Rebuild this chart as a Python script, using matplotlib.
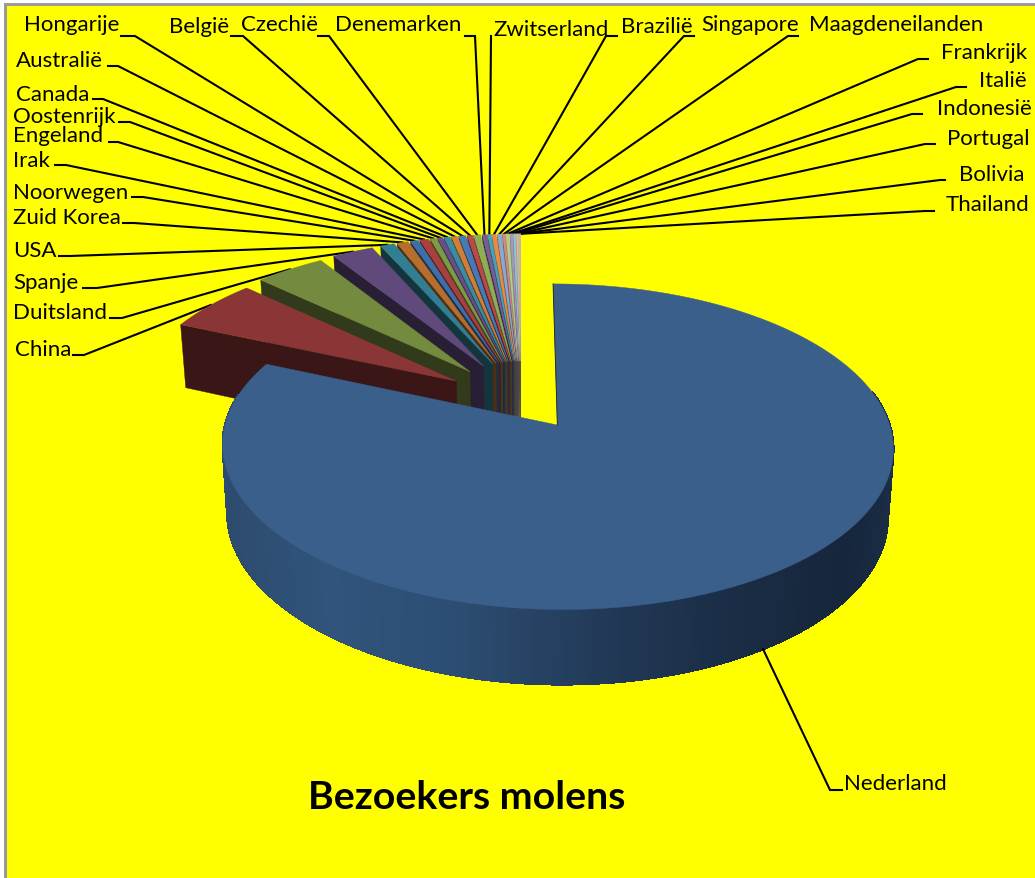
import numpy as np
import matplotlib
matplotlib.use('Agg')
import matplotlib.pyplot as plt
from matplotlib.collections import PolyCollection
from matplotlib.colors import to_rgb
from matplotlib.patches import Rectangle

plt.rcParams['font.family'] = ['Lato', 'DejaVu Sans']

# share of visitors per country, in percent
countries = ['Nederland', 'China', 'Duitsland', 'Spanje', 'USA', 'Zuid Korea', 'Noorwegen',
             'Irak', 'Engeland', 'Oostenrijk', 'Canada', 'Australië', 'Hongarije', 'België',
             'Czechië', 'Denemarken', 'Zwitserland', 'Brazilië', 'Singapore', 'Maagdeneilanden',
             'Frankrijk', 'Italië', 'Indonesië', 'Portugal', 'Bolivia', 'Thailand']
values = [81.47, 5.4, 4.0, 2.36, 0.8, 0.65, 0.45, 0.5, 0.35, 0.3, 0.35, 0.35, 0.4, 0.3,
          0.4, 0.25, 0.2, 0.25, 0.25, 0.15, 0.2, 0.15, 0.15, 0.1, 0.06, 0.05]

colors = ['#3A5F8B', '#8A3536', '#748A3E', '#5F4A7B', '#327F93', '#B56E2E', '#3F6FA8',
          '#A8403F', '#7F9A45', '#684F8A', '#3A8CA3', '#D07F38', '#4679B5', '#B84B49',
          '#8FAD52', '#775C98', '#45A3BC', '#E88C42', '#8BA9D0', '#CE8A89', '#B5CB8C',
          '#A795C0', '#8CC4D3', '#EDB688', '#B0BFD8', '#D8B0B0']

# where the labels sit: left edge, vertical centre
label_x = [844, 15, 13, 13, 13, 13, 13, 13, 13, 13, 16, 16, 24, 169, 241, 335, 493, 621, 701,
           809, 941, 979, 937, 947, 959, 946]
label_y = [784, 350, 313, 283, 251, 218, 193, 161, 136, 117, 95, 61, 25, 27, 25, 25, 30, 27,
           25, 25, 53, 81, 109, 139, 175, 205]
# short flat piece of each leader line: outer end, inner end (x), height
hook_out = [842, 73, 110, 83, 59, 123, 132, 55, 109, 119, 93, 108, 121, 231, 318, 465, 491, 617,
            694, 798, 928, 966, 922, 935, 945, 934]
hook_in = [830, 84, 122, 97, 70, 134, 143, 66, 118, 130, 103, 118, 135, 243, 329, 475, 491, 606,
           684, 788, 918, 956, 912, 925, 940, 925]
hook_y = [791, 356, 319, 289, 257, 224, 198, 166, 143, 123, 100, 67, 37, 37, 37, 37, 37, 37, 37,
          37, 60, 88, 115, 145, 181, 212]

CX, CY = 521, 396      # pie centre in pixels
A, B = 324, 152        # radius in pixels
K = 0.13               # perspective
DEPTH = 66
SHRINK = 0.015
EY = 0.23              # explosion, vertical
EX_BIG, EX_SMALL = 0.2, 0.22  # explosion, sideways


def project(u, v, z=0.0):
    u, v, z = np.asarray(u, float), np.asarray(v, float), np.asarray(z, float)
    w = 1 + K * v
    s = 1 - SHRINK * z
    return CX + A * u / w * s, CY - B * v / w * s + DEPTH * z / w


def apex(direction, ex):
    return ex * np.cos(np.radians(direction)), EY * np.sin(np.radians(direction))


def rim(direction, ex, ang):
    # point on the edge of a slice that was pulled out along direction
    a0, a1 = apex(direction, ex)
    return a0 + np.cos(np.radians(ang)), a1 + np.sin(np.radians(ang))


def darker(c, f=0.42):
    return tuple(x * f for x in to_rgb(c))


fig = plt.figure(figsize=(10.35, 8.79), dpi=100, facecolor='white')
ax = fig.add_axes([0, 0, 1, 1])
ax.set_xlim(0, 1035)
ax.set_ylim(879, 0)
ax.axis('off')

ax.add_patch(Rectangle((4, 4), 1031, 875, facecolor='#FFFF00', edgecolor='none', zorder=0))
ax.add_patch(Rectangle((4, 4), 3, 875, facecolor='#9A9A9A', edgecolor='none', zorder=1))
ax.add_patch(Rectangle((4, 4), 1031, 3, facecolor='#9A9A9A', edgecolor='none', zorder=1))

fractions = np.array(values) / np.sum(values)
ends = 90 - 360 * np.cumsum(fractions)
starts = ends + 360 * fractions
mids = (starts + ends) / 2
# the picture pulls the small slices out along their first edge, Nederland along its middle
pull = starts.copy()
pull[0] = mids[0]
pull_x = [EX_BIG] + [EX_SMALL] * (len(values) - 1)

# small slices first, the big one ends up on top
for i in range(len(values) - 1, 0, -1):
    a0, a1 = apex(pull[i], pull_x[i])
    # wall below the edge that faces the viewer
    ru, rv = rim(pull[i], pull_x[i], starts[i])
    xs, ys = project([a0, ru, ru, a0], [a1, rv, rv, a1], [0, 0, 1, 1])
    ax.fill(xs, ys, color=darker(colors[i]), lw=0.3, zorder=3)
    angs = np.linspace(ends[i], starts[i], 12)
    ru, rv = rim(pull[i], pull_x[i], angs)
    xs, ys = project(np.r_[a0, ru], np.r_[a1, rv])
    ax.fill(xs, ys, color=colors[i], lw=0.3, zorder=3)

# Nederland: outer wall with the shading running across it
ned_angs = np.linspace(ends[0], starts[0], 400)
ru, rv = rim(pull[0], pull_x[0], ned_angs)
x_top, y_top = project(ru, rv, 0)
x_bot, y_bot = project(ru, rv, 1)
grad_x = [225, 330, 450, 600, 720, 850, 893]
grad_c = ['#2D4B6E', '#31547C', '#2D4E74', '#223A58', '#1B2E47', '#16263B', '#1A2D45']
grad_rgb = np.array([to_rgb(c) for c in grad_c])
quads, quad_colors = [], []
for j in range(len(ned_angs) - 1):
    # the back of the rim is hidden anyway
    if np.sin(np.radians(ned_angs[j])) > 0.2:
        continue
    quads.append([(x_top[j], y_top[j]), (x_top[j + 1], y_top[j + 1]),
                  (x_bot[j + 1], y_bot[j + 1]), (x_bot[j], y_bot[j])])
    xm = (x_top[j] + x_top[j + 1]) / 2
    quad_colors.append([np.interp(xm, grad_x, grad_rgb[:, k]) for k in range(3)])
ax.add_collection(PolyCollection(quads, facecolors=quad_colors, edgecolors=quad_colors,
                                 linewidths=1, antialiaseds=False, zorder=4))
a0, a1 = apex(pull[0], pull_x[0])
xs, ys = project(np.r_[a0, ru], np.r_[a1, rv])
ax.fill(xs, ys, color=colors[0], lw=0.3, zorder=5)
# thin dark line along the straight edge at twelve o'clock
xs, ys = project([a0, ru[-1]], [a1, rv[-1]])
ax.plot(xs, ys, color='#1A2D45', lw=0.7, zorder=5)

# labels and leader lines
for i, name in enumerate(countries):
    ax.text(label_x[i], label_y[i], name, fontsize=16, ha='left', va='center', color='black',
            zorder=7)
    ru, rv = rim(pull[i], pull_x[i], mids[i])
    end_x, end_y = project(ru, rv, 1 if i == 0 else 0)
    ax.plot([hook_out[i], hook_in[i], end_x], [hook_y[i], hook_y[i], end_y], color='black',
            lw=1.5, solid_joinstyle='miter', zorder=2 if i else 6)

ax.text(467, 798, 'Bezoekers molens', fontsize=28.3, fontweight='bold', ha='center', va='center',
        color='black', zorder=7)

fig.savefig('out.png', dpi=100, facecolor=fig.get_facecolor())
